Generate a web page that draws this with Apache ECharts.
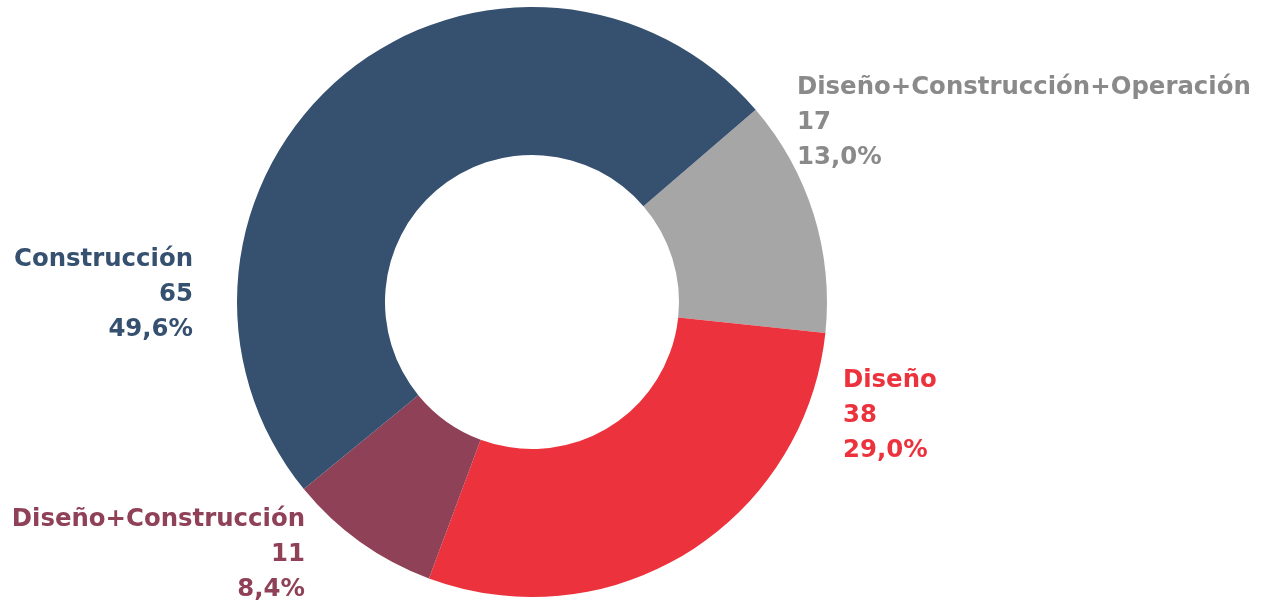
<!DOCTYPE html>
<html><head><meta charset="utf-8">
<script src="https://cdn.jsdelivr.net/npm/echarts@6/dist/echarts.min.js"></script>
<style>html,body{margin:0;padding:0;background:#fff}#c{width:1268px;height:601px}</style>
</head><body><div id="c"></div>
<script>
const categories = ['Diseño+Construcción+Operación', 'Diseño', 'Diseño+Construcción', 'Construcción'];
const values = [17, 38, 11, 65];
const percentLabels = ['13,0%', '29,0%', '8,4%', '49,6%'];
const sliceColors = ['#a6a6a6', '#ec323c', '#8f4157', '#36506f'];
const labelColors = ['#8a8a8a', '#ec323c', '#8f4157', '#36506f'];
// label anchor positions (layout only)
const labelPos = [
  {x: 797, y: 123, align: 'left'},
  {x: 843, y: 416, align: 'left'},
  {x: 305, y: 555, align: 'right'},
  {x: 193, y: 295, align: 'right'}
];
const chart = echarts.init(document.getElementById('c'), null, {renderer: 'canvas'});
chart.setOption({
  animation: false,
  series: [{
    type: 'pie',
    center: [532, 302],
    radius: [147, 295],
    startAngle: 40.7,
    clockwise: true,
    data: categories.map((n, i) => ({
      name: n, value: values[i],
      itemStyle: {color: sliceColors[i]},
      label: {color: labelColors[i], align: labelPos[i].align}
    })),
    label: {
      show: true,
      position: 'outside',
      overflow: 'none',
      width: 600,
      fontFamily: 'DejaVu Sans',
      fontWeight: 'bold',
      fontSize: 24.4,
      lineHeight: 35,
      formatter: p => p.name + '\n' + p.value + '\n' + percentLabels[p.dataIndex]
    },
    labelLine: {show: false},
    labelLayout: p => ({
      x: labelPos[p.dataIndex].x,
      y: labelPos[p.dataIndex].y,
      align: labelPos[p.dataIndex].align,
      verticalAlign: 'middle'
    }),
    emphasis: {disabled: true}
  }]
});
</script></body></html>
